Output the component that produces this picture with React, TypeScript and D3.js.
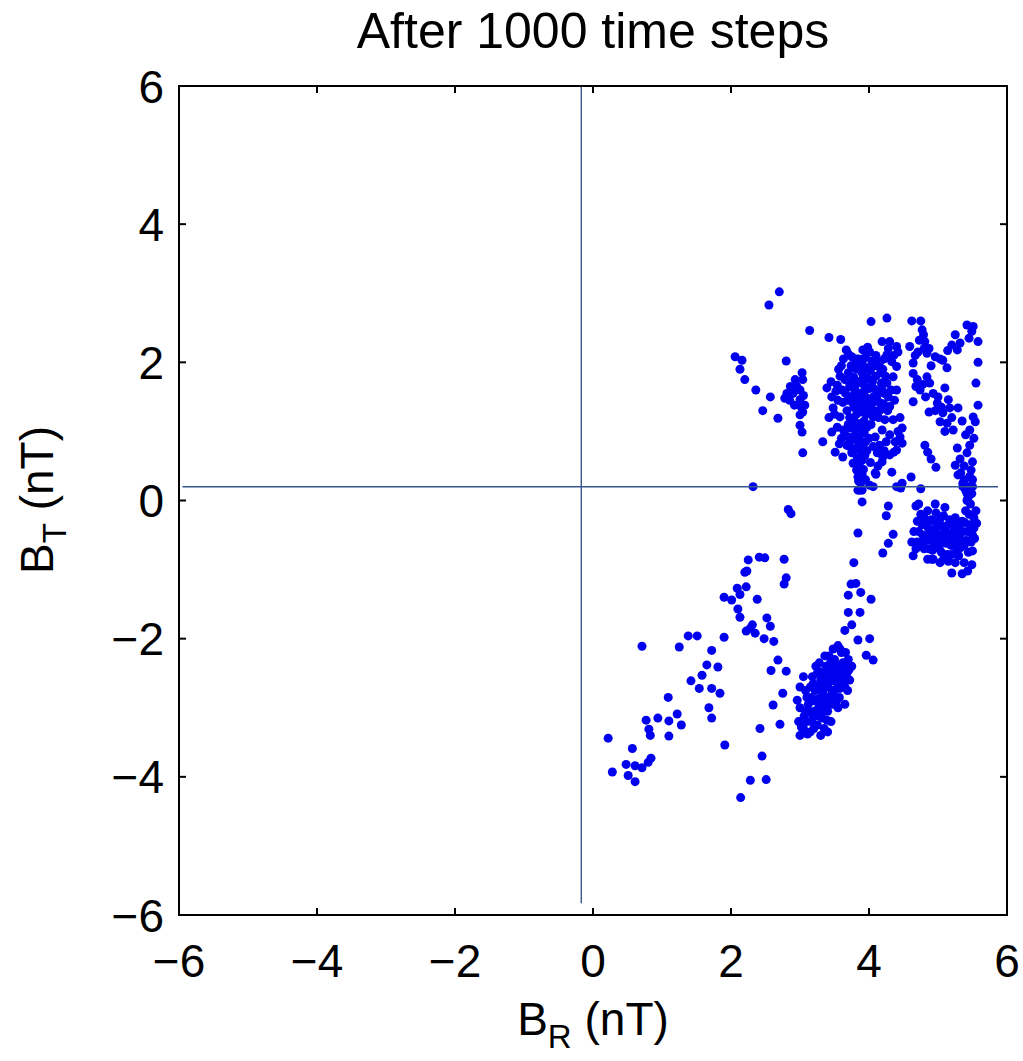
import React from "react";
import * as d3 from "d3";

type P = [number, number];

const xTicks = [-6, -4, -2, 0, 2, 4, 6];
const yTicks = [-6, -4, -2, 0, 2, 4, 6];
const titleText = "After 1000 time steps";

// reference lines
const vLine = { x: -0.17, y0: -5.83, y1: 6 };
const hLine = { y: 0.2, x0: -5.95, x1: 5.87 };

const stragglers: P[] = [
  [2.7, 3.02], [2.55, 2.83], [3.14, 2.46], [3.42, 2.36], [3.59, 2.33], [4.03, 2.59], [4.26, 2.64],
  [2.32, 0.2], [3.04, 0.69], [2.83, -0.13], [2.87, -0.19],
];

const upperLeftArm: P[] = [
  [2.06, 2.08], [2.16, 2.03], [2.13, 1.9], [2.2, 1.75], [2.36, 1.6], [2.57, 1.5], [2.46, 1.3], [2.68, 1.19], [2.8, 2.02],
];

const leftGroup: P[] = [
  [2.81, 1.55], [2.78, 1.48], [2.86, 1.65], [2.93, 1.75], [3.03, 1.85], [3.04, 1.75], [3.0, 1.6], [2.9, 1.55],
  [3.0, 1.46], [3.07, 1.38], [3.04, 1.28], [3.0, 1.24], [3.0, 1.09], [3.03, 0.99], [2.85, 1.45], [2.92, 1.38],
  [3.05, 1.52], [2.95, 1.66], [2.88, 1.57], [3.02, 1.35],
];

const mainCluster: P[] = [
  [3.67, 2.18], [3.75, 2.08], [3.91, 2.18], [4.01, 2.15], [4.19, 2.3], [4.3, 2.3], [4.4, 2.23], [4.42, 2.15],
  [4.26, 2.11], [4.33, 2.01], [4.16, 2.01], [4.4, 1.94], [3.85, 2.05], [3.95, 2.08], [3.8, 1.98], [4.05, 2.02],
  [3.9, 1.95], [4.1, 2.1], [3.98, 2.22], [3.7, 2.12],
  [3.39, 1.63], [3.46, 1.5], [3.54, 1.67], [3.61, 1.6], [3.48, 1.34], [3.58, 1.21], [3.65, 1.75], [3.7, 1.85],
  [3.72, 1.65], [3.75, 1.5], [3.78, 1.78], [3.8, 1.6], [3.82, 1.9], [3.85, 1.72], [3.87, 1.55], [3.88, 1.4],
  [3.9, 1.85], [3.92, 1.68], [3.95, 1.5], [3.96, 1.78], [3.98, 1.35], [4.0, 1.62], [4.02, 1.88], [4.05, 1.72],
  [4.06, 1.5], [4.1, 1.8], [4.12, 1.6], [4.15, 1.42], [4.18, 1.7], [4.2, 1.9], [4.22, 1.55], [4.26, 1.7],
  [4.19, 1.6], [4.28, 1.5], [4.35, 1.79], [4.3, 1.36], [4.16, 1.31], [4.06, 1.21], [4.23, 1.17], [4.35, 1.17],
  [4.45, 1.2], [3.62, 1.42], [3.68, 1.3], [3.72, 1.2], [3.78, 1.35], [3.82, 1.25], [3.85, 1.1], [3.9, 1.28],
  [3.93, 1.15], [3.97, 1.06], [4.02, 1.32], [3.66, 1.55], [3.55, 1.45], [3.58, 1.8], [3.52, 1.58], [3.74, 1.95],
  [3.86, 1.98], [4.08, 1.95], [4.13, 1.98], [3.94, 1.42],
  [3.46, 0.99], [3.54, 1.06], [3.33, 0.85], [3.51, 0.7], [3.62, 0.63], [3.68, 0.8], [3.7, 0.92], [3.75, 0.69],
  [3.77, 0.54], [3.82, 0.44], [3.84, 0.34], [3.87, 0.3], [4.09, 0.4], [4.19, 0.56], [3.84, 0.15], [3.9, 0.15],
  [3.8, 0.95], [3.85, 0.82], [3.88, 0.7], [3.9, 0.58], [3.92, 0.45], [3.8, 0.75], [3.75, 0.88], [3.95, 0.85],
  [3.93, 0.98], [3.88, 0.25], [3.9, 0.38], [3.86, 0.5], [3.83, 0.62], [4.48, 1.05], [4.45, 0.92], [4.48, 0.83],
  [4.4, 0.73], [4.3, 0.66], [4.2, 0.63], [4.12, 0.69], [4.06, 0.78], [4.09, 0.92], [4.19, 1.02], [4.3, 0.95],
  [4.1, 0.38], [4.01, 0.22], [4.33, 0.41], [4.48, 0.25], [4.61, 0.34], [4.75, 0.17], [4.06, 0.2],
  [4.46, 0.18], [3.63, 1.02], [3.7, 1.1], [3.6, 0.9],
  [3.76, 1.42], [3.79, 1.15], [3.81, 1.05], [3.83, 1.7], [3.84, 1.45], [3.86, 1.3], [3.89, 1.12], [3.91, 1.0],
  [3.92, 1.78], [3.94, 1.6], [3.96, 1.25], [3.99, 1.45], [4.01, 1.75], [4.03, 1.1], [4.04, 1.4], [4.07, 1.62],
  [4.08, 1.3], [4.11, 1.5], [4.14, 1.2], [4.17, 1.85], [4.21, 1.4], [4.24, 1.8], [4.27, 1.3], [4.32, 1.6],
  [4.37, 1.45], [4.4, 1.6], [3.69, 1.45], [3.71, 1.72], [3.73, 1.05], [3.77, 1.92], [3.79, 1.55], [3.81, 2.05],
  [3.93, 2.05], [3.97, 1.92], [4.04, 1.97], [4.15, 1.93], [4.22, 2.05], [4.28, 2.2], [4.36, 2.1], [3.86, 0.9],
  [3.91, 0.78], [3.94, 0.65], [3.82, 0.52], [3.88, 0.4], [3.85, 0.28], [3.95, 0.3], [3.97, 0.72], [4.0, 0.9],
  [4.02, 0.55], [4.15, 0.8], [4.25, 0.85], [4.38, 0.85], [4.42, 1.0], [4.36, 0.7], [4.22, 0.72], [4.13, 0.5],
  [3.72, 0.78], [3.65, 0.95], [3.57, 0.82], [3.42, 1.2], [3.5, 1.25], [3.45, 1.72], [3.6, 1.95], [3.63, 2.05],
  [3.56, 1.9],
];

const rightColumn: P[] = [
  [4.62, 2.6], [4.75, 2.6], [4.77, 2.47], [4.81, 2.3], [5.42, 2.54], [5.51, 2.52], [5.58, 2.3], [5.25, 2.4],
  [5.32, 2.28], [5.28, 2.18], [5.14, 2.17], [5.58, 2.0], [5.55, 1.7], [5.58, 1.38], [5.51, 1.21], [5.54, 1.14],
  [5.46, 1.02], [5.46, 0.8], [5.42, 0.69], [5.5, 0.56], [5.48, 0.44], [5.28, 0.76], [5.25, 0.51], [5.29, 0.37],
  [5.36, 0.25], [5.42, 0.1], [4.97, 0.48], [4.81, 0.8], [4.59, 2.23], [4.71, 2.15], [4.84, 2.13], [4.96, 2.08],
  [5.07, 2.03], [5.13, 1.92], [5.03, 2.05], [4.64, 1.99], [4.64, 1.84], [4.7, 1.75], [4.74, 1.6], [4.84, 1.79],
  [4.88, 1.7], [4.93, 1.55], [4.99, 1.41], [5.1, 1.63], [5.15, 1.46], [5.17, 1.34], [5.07, 1.27], [5.03, 1.14],
  [5.13, 1.12], [5.22, 1.02], [5.29, 1.34], [4.64, 1.43], [4.87, 1.28], [4.79, 2.4], [4.8, 2.2], [5.2, 2.25],
  [5.49, 2.45], [5.45, 2.35], [5.52, 0.9], [5.5, 0.3], [5.45, 0.2],
  [4.67, 2.1], [4.73, 2.32], [4.87, 2.2], [4.9, 1.95], [4.68, 1.65], [4.78, 1.68], [4.82, 1.5], [4.96, 1.3],
  [5.0, 1.5], [5.05, 1.35], [5.2, 1.2], [5.1, 1.0], [5.35, 1.15], [5.4, 0.95], [5.38, 0.5], [5.32, 0.6],
  [4.9, 0.6], [4.85, 0.7],
];

const lowerRightBlob: P[] = [
  [4.64, -0.8], [4.91, -0.85], [5.03, -0.9], [5.2, -1.05], [5.35, -1.06], [5.43, -1.02], [5.49, -0.93],
  [5.5, -0.73], [5.56, -0.33], [5.42, 0.0], [5.36, 0.2], [5.49, 0.1], [4.68, -0.08],
  [4.65, -0.45], [4.7, -0.3], [4.7, -0.6], [4.75, -0.2], [4.78, -0.5], [4.8, -0.7], [4.82, -0.35], [4.85, -0.15],
  [4.88, -0.55], [4.9, -0.28], [4.92, -0.72], [4.95, -0.42], [4.97, -0.18], [5.0, -0.6], [5.02, -0.32],
  [5.05, -0.5], [5.05, -0.75], [5.08, -0.22], [5.1, -0.42], [5.12, -0.62], [5.15, -0.35], [5.18, -0.55],
  [5.2, -0.78], [5.22, -0.45], [5.25, -0.25], [5.25, -0.62], [5.28, -0.4], [5.3, -0.8], [5.32, -0.55],
  [5.35, -0.3], [5.38, -0.65], [5.4, -0.15], [5.42, -0.45], [5.45, -0.2], [5.48, -0.6], [5.52, -0.4],
  [5.55, -0.15], [4.72, -0.05], [4.62, -0.6], [4.85, -0.85], [5.15, -0.88], [4.96, -0.05], [4.98, -0.65],
  [4.86, -0.4], [5.1, -0.1], [5.38, -0.9], [5.53, -0.55],
  [4.68, -0.7], [4.72, -0.45], [4.76, -0.62], [4.77, -0.35], [4.8, -0.25], [4.83, -0.58], [4.87, -0.7],
  [4.89, -0.45], [4.93, -0.6], [4.94, -0.3], [4.99, -0.5], [5.0, -0.38], [5.02, -0.7], [5.04, -0.25],
  [5.07, -0.6], [5.09, -0.38], [5.13, -0.5], [5.14, -0.78], [5.17, -0.28], [5.19, -0.65], [5.21, -0.35],
  [5.23, -0.55], [5.27, -0.7], [5.29, -0.5], [5.31, -0.35], [5.33, -0.68], [5.36, -0.45], [5.39, -0.32],
  [5.41, -0.58], [5.44, -0.75], [5.47, -0.35], [5.5, -0.5], [5.52, -0.25], [5.44, 0.05], [5.47, -0.05],
  [5.4, 0.15], [5.5, 0.2], [5.38, 0.3], [5.33, 0.4], [5.46, 0.35], [4.93, -0.85], [5.08, -0.85], [5.25, -0.9],
];

const middleLinks: P[] = [
  [3.84, -0.47], [3.9, -0.02], [3.86, 0.15], [3.78, -0.9], [3.74, -1.21], [3.7, -1.37], [3.88, -1.33],
  [4.03, -1.43], [4.28, -0.08], [4.25, -0.22], [4.35, -0.49], [4.28, -0.62], [4.2, -0.76], [4.4, 0.2],
  [3.81, -1.2], [3.7, -1.62], [3.75, -1.8], [3.65, -1.88], [3.84, -2.02], [3.96, -2.24], [4.06, -2.31],
  [4.01, -2.0], [3.87, -1.62],
];

const bottomBlob: P[] = [
  [3.0, -3.4], [3.05, -3.3], [3.1, -3.2], [3.08, -3.05], [3.12, -2.95], [3.15, -3.35], [3.18, -3.1], [3.2, -2.9],
  [3.22, -2.75], [3.25, -3.25], [3.27, -3.0], [3.3, -2.85], [3.3, -2.6], [3.32, -3.15], [3.35, -2.95], [3.37, -2.7],
  [3.4, -2.5], [3.4, -3.05], [3.42, -2.85], [3.45, -2.6], [3.47, -2.95], [3.5, -2.75], [3.52, -2.45], [3.55, -2.65],
  [3.57, -2.85], [3.6, -2.55], [3.62, -2.35], [3.65, -2.7], [3.68, -2.5], [3.7, -2.3], [3.25, -2.5], [3.15, -2.7],
  [3.1, -2.85], [3.2, -3.3], [3.35, -3.3], [3.45, -3.2], [3.38, -2.4], [3.55, -3.0], [3.6, -2.2], [3.5, -2.3],
  [3.28, -2.35], [3.0, -3.0], [2.96, -2.89], [3.0, -2.7], [3.05, -2.55], [2.98, -3.2], [3.18, -2.55], [3.45, -2.4],
  [3.65, -2.95], [3.3, -3.4], [3.4, -3.35], [3.72, -2.6], [3.75, -2.4], [3.58, -2.15], [3.42, -2.25],
  [3.02, -3.28], [3.06, -3.12], [3.08, -2.75], [3.11, -3.38], [3.13, -3.05], [3.16, -2.85], [3.17, -3.2],
  [3.19, -2.65], [3.21, -3.05], [3.23, -2.4], [3.24, -2.88], [3.26, -3.12], [3.28, -2.7], [3.29, -2.48],
  [3.31, -2.95], [3.33, -2.78], [3.34, -3.05], [3.36, -2.55], [3.38, -2.85], [3.39, -3.18], [3.41, -2.65],
  [3.43, -2.95], [3.44, -2.35], [3.46, -2.75], [3.48, -2.52], [3.49, -2.85], [3.51, -2.62], [3.53, -2.9],
  [3.54, -2.38], [3.56, -2.55], [3.58, -2.72], [3.59, -2.42], [3.61, -2.65], [3.63, -2.48], [3.66, -2.4],
  [3.67, -2.6], [3.69, -2.75], [3.71, -2.45], [3.36, -2.25], [3.48, -2.15], [3.66, -2.2], [3.55, -2.1],
];

const middleTail: P[] = [
  [2.01, -1.44], [2.09, -1.27], [2.2, -1.04], [2.25, -0.86], [2.41, -0.82], [2.49, -0.83], [2.77, -0.85],
  [2.8, -1.12], [2.38, -1.43], [2.22, -1.89], [2.28, -1.85], [2.35, -1.92], [2.31, -1.8], [2.48, -2.0],
  [2.57, -1.82], [2.52, -1.7], [2.62, -2.04], [2.68, -2.31], [2.58, -2.46], [2.8, -2.47], [2.75, -2.79],
  [2.61, -2.96], [2.42, -3.3], [2.45, -3.7], [2.28, -4.05], [2.51, -4.04], [2.14, -4.3], [1.91, -3.54],
  [1.72, -3.15], [1.68, -3.0], [1.72, -2.72], [1.84, -2.79], [1.81, -2.41], [1.65, -2.38], [1.58, -2.53],
  [1.72, -2.17], [1.9, -1.98], [2.1, -1.57], [2.13, -1.69], [2.23, -1.02], [2.22, -1.25], [2.13, -1.36],
  [1.9, -1.4], [2.77, -1.21], [2.71, -3.24],
];

const lowerLeftTail: P[] = [
  [0.71, -2.11], [1.25, -2.12], [1.38, -1.96], [1.51, -1.96], [1.42, -2.61], [1.54, -2.72], [1.09, -2.85],
  [1.22, -3.09], [1.1, -3.19], [1.28, -3.25], [0.94, -3.15], [0.77, -3.18], [0.81, -3.31], [0.83, -3.4],
  [1.1, -3.41], [0.22, -3.44], [0.57, -3.59], [0.48, -3.82], [0.61, -3.84], [0.71, -3.87], [0.8, -3.79],
  [0.84, -3.73], [0.28, -3.93], [0.51, -3.98], [0.61, -4.07],
];

const allPoints: P[] = [
  ...stragglers, ...upperLeftArm, ...leftGroup, ...mainCluster, ...rightColumn,
  ...lowerRightBlob, ...middleLinks, ...bottomBlob, ...middleTail, ...lowerLeftTail,
];

const W = 1023;
const H = 1061;
const left = 179, right = 1007, top = 86, bottom = 915;

export default function App() {
  const x = d3.scaleLinear().domain([-6, 6]).range([left, right]);
  const y = d3.scaleLinear().domain([-6, 6]).range([bottom, top]);
  const font = "'Liberation Sans', Arial, Helvetica, sans-serif";
  const fmt = (v: number) => (v < 0 ? "\u2212" + Math.abs(v) : String(v));
  const tl = 7;
  return (
    <svg width={W} height={H} style={{ position: "absolute", left: 0, top: 0, background: "#fff" }} fontFamily={font}>
      <rect x={0} y={0} width={W} height={H} fill="#fff" />
      <text x={593} y={48} fontSize={50} textAnchor="middle" fill="#000">{titleText}</text>
      {allPoints.map((p, i) => (
        <circle key={i} cx={x(p[0])} cy={y(p[1])} r={4.5} fill="#0000ee" />
      ))}
      <line x1={x(vLine.x)} x2={x(vLine.x)} y1={y(vLine.y0)} y2={y(vLine.y1)} stroke="#35598f" strokeWidth={1.4} />
      <line x1={x(hLine.x0)} x2={x(hLine.x1)} y1={y(hLine.y)} y2={y(hLine.y)} stroke="#35598f" strokeWidth={1.4} />
      <rect x={left} y={top} width={right - left} height={bottom - top} fill="none" stroke="#000" strokeWidth={2} />
      {xTicks.map((t) => (
        <g key={"x" + t}>
          <line x1={x(t)} x2={x(t)} y1={bottom} y2={bottom - tl} stroke="#000" strokeWidth={2} />
          <line x1={x(t)} x2={x(t)} y1={top} y2={top + tl} stroke="#000" strokeWidth={2} />
          <text x={x(t)} y={977} fontSize={46} textAnchor="middle" fill="#000">{fmt(t)}</text>
        </g>
      ))}
      {yTicks.map((t) => (
        <g key={"y" + t}>
          <line x1={left} x2={left + tl} y1={y(t)} y2={y(t)} stroke="#000" strokeWidth={2} />
          <line x1={right} x2={right - tl} y1={y(t)} y2={y(t)} stroke="#000" strokeWidth={2} />
          <text x={164} y={y(t)} dy="0.36em" fontSize={46} textAnchor="end" fill="#000">{fmt(t)}</text>
        </g>
      ))}
      <text x={593} y={1035} fontSize={46} textAnchor="middle" fill="#000">
        B<tspan fontSize={33} dy={13}>R</tspan><tspan dy={-13}> (nT)</tspan>
      </text>
      <text transform="translate(53,500) rotate(-90)" fontSize={46} textAnchor="middle" fill="#000">
        B<tspan fontSize={33} dy={13}>T</tspan><tspan dy={-13}> (nT)</tspan>
      </text>
    </svg>
  );
}
